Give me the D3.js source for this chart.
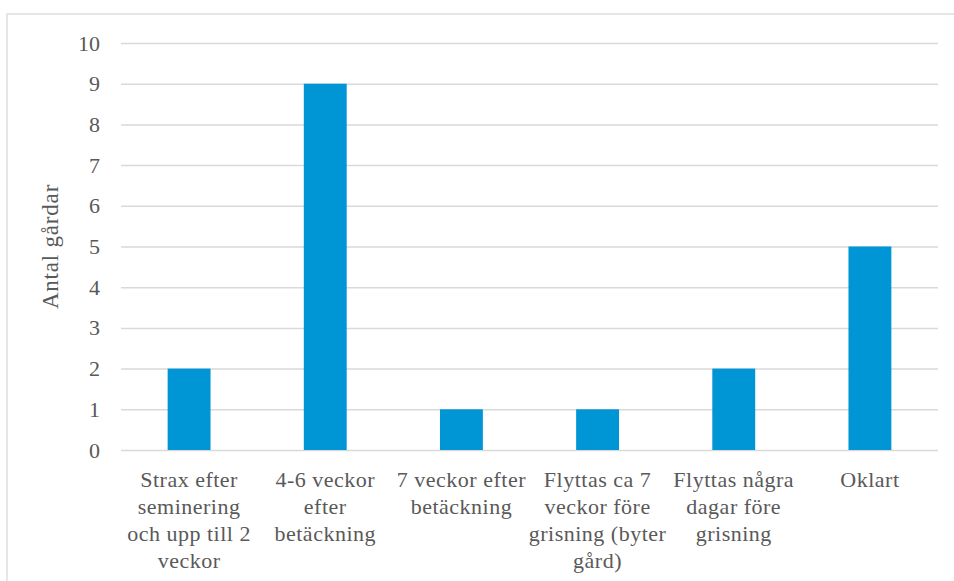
<!DOCTYPE html>
<html>
<head>
<meta charset="utf-8">
<script src="https://cdn.jsdelivr.net/npm/d3@7"></script>
<style>
  html, body { margin: 0; padding: 0; background: #fff; }
  svg { display: block; }
</style>
</head>
<body>
<svg id="chart" width="954" height="581"></svg>
<script>
// Category labels (line breaks mark where each label wraps)
const categories = [
  "Strax efter\nseminering\noch upp till 2\nveckor",
  "4-6 veckor\nefter\nbetäckning",
  "7 veckor efter\nbetäckning",
  "Flyttas ca 7\nveckor före\ngrisning (byter\ngård)",
  "Flyttas några\ndagar före\ngrisning",
  "Oklart"
];
const values = [2, 9, 1, 1, 2, 5];
const yTicks = [0, 1, 2, 3, 4, 5, 6, 7, 8, 9, 10];
const yTitle = "Antal gårdar";

const FONT = "'Liberation Serif', 'Times New Roman', serif";
const TEXT_COLOR = "#595959";

const svg = d3.select("#chart");
const W = 954, H = 581;
const margin = { top: 43, right: 16, bottom: 131, left: 121 };
const plotW = W - margin.left - margin.right;
const plotH = H - margin.top - margin.bottom;

// Outer chart border
svg.append("rect")
  .attr("x", 7).attr("y", 14)
  .attr("width", 960).attr("height", 600)
  .attr("fill", "none")
  .attr("stroke", "#d9d9d9")
  .attr("stroke-width", 1.3);

const g = svg.append("g").attr("transform", `translate(${margin.left},${margin.top})`);

const x = d3.scaleBand().domain(categories).range([0, plotW]).paddingInner(0.685).paddingOuter(0.3425);
const y = d3.scaleLinear().domain([0, 10]).range([plotH, 0]);

// Gridlines and y tick labels
const yAxis = d3.axisLeft(y).tickValues(yTicks).tickSize(-plotW).tickPadding(21).tickFormat(d3.format("d"));
const ya = g.append("g").call(yAxis);
ya.select(".domain").remove();
ya.selectAll(".tick line").attr("stroke", "#d9d9d9").attr("stroke-width", 1.5);
ya.selectAll(".tick text")
  .style("font-family", FONT)
  .style("font-size", "22px")
  .style("fill", TEXT_COLOR);

// Bars
g.selectAll("rect.bar")
  .data(values)
  .join("rect")
  .attr("class", "bar")
  .attr("x", (d, i) => x(categories[i]))
  .attr("y", d => y(d))
  .attr("width", x.bandwidth())
  .attr("height", d => y(0) - y(d))
  .attr("fill", "#0096D6");

// Category labels
const xa = g.append("g").attr("transform", `translate(0,${plotH})`);
categories.forEach(c => {
  const cx = x(c) + x.bandwidth() / 2;
  const t = xa.append("text")
    .attr("x", cx)
    .attr("y", 37)
    .attr("text-anchor", "middle")
    .style("font-family", FONT)
    .style("font-size", "22px")
    .style("letter-spacing", "0.5px")
    .style("fill", TEXT_COLOR);
  c.split("\n").forEach((line, k) => {
    t.append("tspan")
      .attr("x", cx)
      .attr("dy", k === 0 ? 0 : 27)
      .text(line);
  });
});

// Y axis title
svg.append("text")
  .attr("transform", `translate(58,${margin.top + plotH / 2}) rotate(-90)`)
  .attr("text-anchor", "middle")
  .style("font-family", FONT)
  .style("font-size", "23px")
  .style("letter-spacing", "0.8px")
  .style("fill", TEXT_COLOR)
  .text(yTitle);
</script>
</body>
</html>
